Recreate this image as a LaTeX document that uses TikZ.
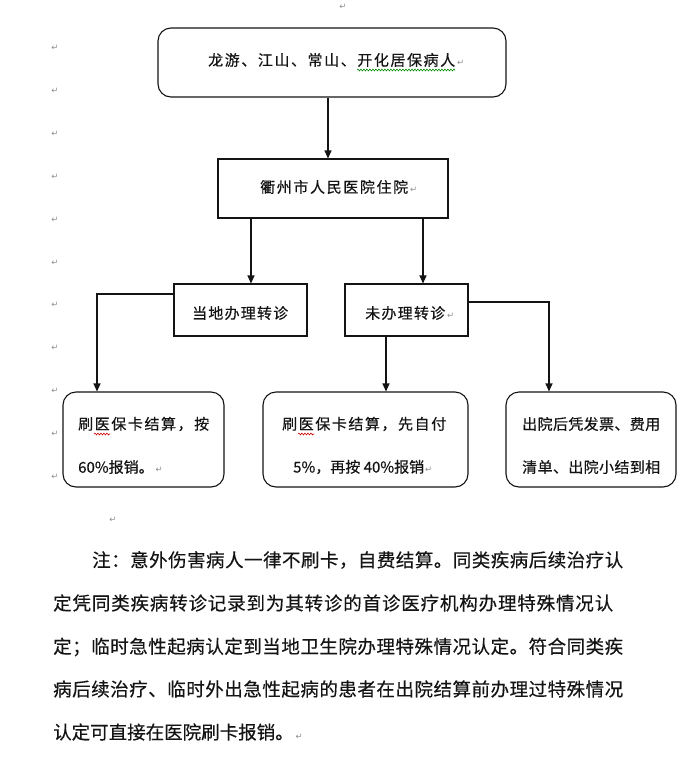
\documentclass[tikz,border=0pt]{standalone}
\usepackage{fontspec}
\setmainfont{Noto Sans CJK SC}[FakeBold=0.35]
\newfontfamily\dejavu{DejaVu Sans}
\usetikzlibrary{arrows.meta,decorations.pathmorphing}
\definecolor{ink}{HTML}{141414}
\definecolor{markgray}{HTML}{8F8F8F}
\newcommand\retmark{{\dejavu\fontsize{8.5}{8.5}\selectfont\textcolor{markgray}{↵}}}
\def\spreadend{}
\def\spreadchars#1{#1\futurelet\spnext\spreadcheck}
\def\spreadcheck{\ifx\spnext\spreadend\expandafter\spreadstop\else\hfil\expandafter\spreadchars\fi}
\def\spreadstop\spreadend{}
\newcommand\spreadto[2]{\makebox[#1][s]{\spreadchars#2\spreadend}}
\tikzset{
  rbox/.style={draw=ink, line width=1.1pt, rounded corners=13pt},
  sbox/.style={draw=ink, line width=1.1pt},
  arr/.style={draw=ink, line width=1.1pt, -{Triangle[length=8pt,width=7pt]}},
  txt/.style={inner sep=0pt, anchor=west, text=ink, font=\fontsize{15}{18}\selectfont},
  notetxt/.style={inner sep=0pt, anchor=west, text=ink, font=\fontsize{18.5}{22}\selectfont},
  pmark/.style={inner sep=0pt},
  wavy/.style={line width=0.6pt, decorate, decoration={snake, amplitude=0.9pt, segment length=3pt}}
}
\begin{document}
\begin{tikzpicture}[x=1pt,y=-1pt]
\useasboundingbox[fill=white] (0,0) rectangle (700,766);

% boxes
\node[rbox, minimum width=348pt, minimum height=69pt] (b1) at (332,62.5) {};
\node[sbox, minimum width=230pt, minimum height=59pt] (b2) at (333,188.5) {};
\node[sbox, minimum width=133pt, minimum height=52pt] (b3a) at (240.5,310) {};
\node[sbox, minimum width=123pt, minimum height=52pt] (b3b) at (406.5,310) {};
\node[rbox, minimum width=161pt, minimum height=95pt] (b4a) at (143.5,439.5) {};
\node[rbox, minimum width=205pt, minimum height=95pt] (b4b) at (365.5,439.5) {};
\node[rbox, minimum width=170pt, minimum height=95pt] (b4c) at (591,439.5) {};

% box texts
\node[txt] (t1) at (208,60) {\spreadto{247pt}{龙游、江山、常山、开化居保病人}\kern2pt\retmark};
\node[txt] (t2) at (260,187) {\spreadto{148pt}{衢州市人民医院住院}\kern2pt\retmark};
\node[txt] (t3a) at (192,313) {\spreadto{96pt}{当地办理转诊}};
\node[txt] (t3b) at (365,313) {\spreadto{80pt}{未办理转诊}\kern2pt\retmark};
\node[txt] (t4a1) at (78,424) {\spreadto{131pt}{刷医保卡结算，按}};
\node[txt] (t4a2) at (78,467) {60\%报销。\kern2pt\retmark};
\node[txt] (t4b1) at (282,424) {\spreadto{164pt}{刷医保卡结算，先自付}};
\node[txt] (t4b2) at (293,467) {5\%，再按 40\%报销\kern1pt\retmark};
\node[txt] (t4c1) at (522,424) {\spreadto{138pt}{出院后凭发票、费用}};
\node[txt] (t4c2) at (522,467) {\spreadto{138pt}{清单、出院小结到相}};

% spell-check squiggles
\draw[wavy, green!55!black] (357,70) -- (455,70);
\draw[wavy, red!80!black] (94,434) -- (110,434);
\draw[wavy, red!80!black] (298,434) -- (314,434);

% connectors
\coordinate (xl) at (251,0);
\coordinate (xr) at (423,0);
\draw[arr] (b1.south -| 328,0) -- (b2.north -| 328,0);
\draw[arr] (xl |- b2.south) -- (xl |- b3a.north);
\draw[arr] (xr |- b2.south) -- (xr |- b3b.north);
\draw[arr] ([yshift=16pt]b3a.west) -| ([xshift=-46.5pt]b4a.north);
\draw[arr] ([xshift=-20.5pt]b3b.south) -- ([xshift=-20.5pt]b3b.south |- b4b.north);
\draw[arr] ([yshift=8pt]b3b.east) -| ([xshift=-42pt]b4c.north);

% note
\node[notetxt] (n1) at (92,560) {\spreadto{531pt}{注：意外伤害病人一律不刷卡，自费结算。同类疾病后续治疗认}};
\node[notetxt] (n2) at (53,603) {\spreadto{560pt}{定凭同类疾病转诊记录到为其转诊的首诊医疗机构办理特殊情况认}};
\node[notetxt] (n3) at (53,647) {\spreadto{570pt}{定；临时急性起病认定到当地卫生院办理特殊情况认定。符合同类疾}};
\node[notetxt] (n4) at (53,689) {\spreadto{570pt}{病后续治疗、临时外出急性起病的患者在出院结算前办理过特殊情况}};
\node[notetxt] (n5) at (53,732) {认定可直接在医院刷卡报销。\kern2pt\retmark};

% paragraph marks
\node[pmark] (mtop) at (343,7) {\retmark};
\node[pmark] (mbot) at (113,520) {\retmark};
\foreach \yy [count=\i] in {48,91,134,177,220,263,305,348,391,434,477}
  \node[pmark] (m\i) at (55,\yy) {\retmark};
\end{tikzpicture}
\end{document}
